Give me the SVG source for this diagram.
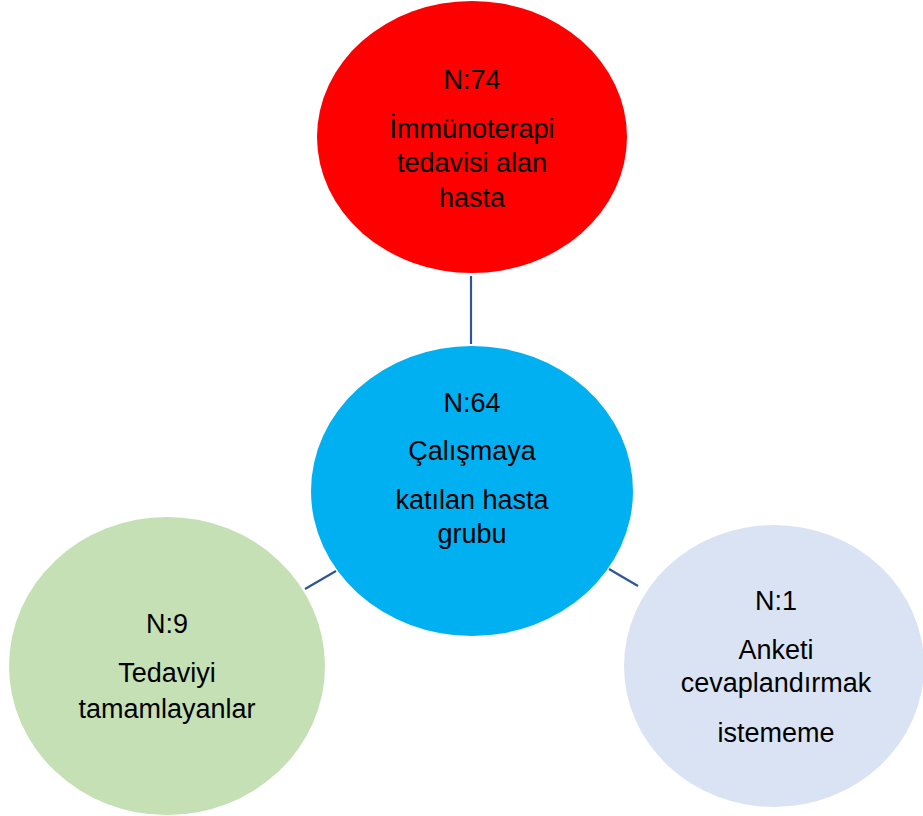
<svg xmlns="http://www.w3.org/2000/svg" width="923" height="816" viewBox="0 0 923 816">
<style>
  .lbl { font-family: "Liberation Sans", Arial, sans-serif; font-size: 27px; fill: #000; text-anchor: middle; }
  .conn { stroke: #2F5597; stroke-width: 2.2; fill: none; }
</style>
<rect x="0" y="0" width="923" height="816" fill="#FFFFFF"/>
<g id="connectors">
  <line class="conn" x1="471" y1="276" x2="471" y2="344"/>
  <line class="conn" x1="305" y1="589" x2="336" y2="571"/>
  <line class="conn" x1="609" y1="569" x2="638" y2="586"/>
</g>
<g id="node-immunoterapi">
  <ellipse cx="472" cy="137" rx="155" ry="136" fill="#FF0000"/>
  <text class="lbl" x="472" y="89">N:74</text>
  <text class="lbl" x="472" y="138">İmmünoterapi</text>
  <text class="lbl" x="472" y="172">tedavisi alan</text>
  <text class="lbl" x="472" y="207">hasta</text>
</g>
<g id="node-calisma">
  <ellipse cx="472" cy="491" rx="161" ry="145" fill="#00B0F0"/>
  <text class="lbl" x="472" y="412">N:64</text>
  <text class="lbl" x="472" y="460">Çalışmaya</text>
  <text class="lbl" x="472" y="509">katılan hasta</text>
  <text class="lbl" x="472" y="543">grubu</text>
</g>
<g id="node-tamamlayan">
  <ellipse cx="167" cy="666" rx="158" ry="149" fill="#C5E0B4"/>
  <text class="lbl" x="167" y="633">N:9</text>
  <text class="lbl" x="167" y="682">Tedaviyi</text>
  <text class="lbl" x="167" y="718">tamamlayanlar</text>
</g>
<g id="node-anket">
  <ellipse cx="774" cy="666" rx="150" ry="141" fill="#DAE3F3"/>
  <text class="lbl" x="776" y="610">N:1</text>
  <text class="lbl" x="776" y="659">Anketi</text>
  <text class="lbl" x="776" y="692">cevaplandırmak</text>
  <text class="lbl" x="776" y="742">istememe</text>
</g>
</svg>
